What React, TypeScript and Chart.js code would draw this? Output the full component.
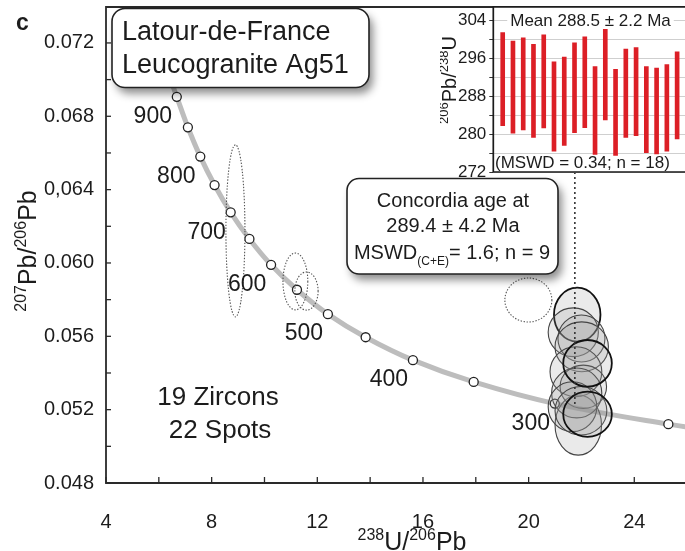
import React, { useEffect, useRef } from 'react';
import { Chart, registerables } from 'chart.js';

Chart.register(...registerables);

const FONT = '"Liberation Sans", Arial, Helvetica, sans-serif';
const INK = '#1c1c1c';

// ---- Concordia curve (Tera-Wasserburg) : age markers every 50 Ma ----
const markerAges = [900, 850, 800, 750, 700, 650, 600, 550, 500, 450, 400, 350, 300, 250];
const markerX = [6.68, 7.10, 7.57, 8.11, 8.72, 9.43, 10.25, 11.23, 12.40, 13.83, 15.62, 17.92, 20.99, 25.29];
const markerY = [0.06906, 0.06740, 0.06580, 0.06425, 0.06276, 0.06131, 0.05990, 0.05854, 0.05721, 0.05595, 0.05470, 0.05351, 0.05233, 0.05121];
// traced curve, running past the first and last markers
const curveX = [6.30, ...markerX, 27.53];
const curveY = [0.07060, ...markerY, 0.05077];
const labelledAges = [900, 800, 700, 600, 500, 400, 300];

// ---- concordant spots (solid grey ellipses) ----
const ellX = [21.88, 21.84, 21.69, 22.00, 22.01, 21.79, 22.07, 21.82, 21.66, 21.98, 22.23, 22.23];
const ellY = [0.05116, 0.05718, 0.05622, 0.05588, 0.05543, 0.05407, 0.05325, 0.05291, 0.05216, 0.05194, 0.05453, 0.05175];
const ellRx = [0.88, 0.88, 0.95, 0.89, 1.01, 0.98, 0.88, 0.95, 0.92, 0.98, 0.92, 0.92];
const ellRy = [0.00164, 0.00147, 0.00133, 0.00128, 0.00136, 0.00136, 0.00118, 0.00136, 0.00136, 0.00132, 0.00127, 0.00123];
const ellBold = [false, true, false, false, false, false, false, false, false, false, true, true];

// ---- excluded spots (dotted ellipses) ----
const dotX = [8.90, 11.17, 11.59, 19.99];
const dotY = [0.06175, 0.05899, 0.05847, 0.05798];
const dotRx = [0.36, 0.47, 0.44, 0.89];
const dotRy = [0.00469, 0.00155, 0.00104, 0.00120];

// concordia age point
const concAgeX = 21.75;
const concAgeY = 0.0522;

// ---- axis ticks ----
const xTickValues = [4, 8, 12, 16, 20, 24];
const xTickLabels = ['4', '8', '12', '16', '20', '24'];
const yTickValues = [0.048, 0.052, 0.056, 0.060, 0.064, 0.068, 0.072];
const yTickLabels = ['0.048', '0.052', '0.056', '0.060', '0,064', '0.068', '0.072'];

// ---- inset: 206Pb/238U ages (Ma), 2-sigma bars ----
const insetLow = [281.8, 280.2, 280.9, 279.3, 281.3, 276.4, 277.6, 280.3, 281.4, 275.7, 283.0, 275.5, 279.3, 279.7, 276.1, 275.8, 276.4, 279.0];
const insetHigh = [301.5, 299.7, 300.4, 299.0, 301.0, 295.3, 296.3, 299.3, 300.6, 294.3, 302.4, 293.7, 298.0, 298.3, 294.3, 294.0, 294.7, 297.4];
const insetTickValues = [272, 280, 288, 296, 304];

type Part = { t: string; sup?: boolean; sub?: boolean };

function drawRich(ctx: CanvasRenderingContext2D, parts: Part[], x: number, y: number, align: 'left' | 'center', main: number, small: number) {
  const widths = parts.map((p) => {
    ctx.font = `${p.sup || p.sub ? small : main}px ${FONT}`;
    return ctx.measureText(p.t).width;
  });
  const total = widths.reduce((a, b) => a + b, 0);
  let cx = align === 'center' ? x - total / 2 : x;
  ctx.textAlign = 'left';
  ctx.textBaseline = 'alphabetic';
  parts.forEach((p, i) => {
    ctx.font = `${p.sup || p.sub ? small : main}px ${FONT}`;
    const dy = p.sup ? -main * 0.4 : p.sub ? main * 0.3 : 0;
    ctx.fillText(p.t, cx, y + dy);
    cx += widths[i];
  });
}

function roundBox(ctx: CanvasRenderingContext2D, x: number, y: number, w: number, h: number, r: number) {
  ctx.save();
  ctx.beginPath();
  ctx.roundRect(x, y, w, h, r);
  ctx.shadowColor = 'rgba(0,0,0,0.45)';
  ctx.shadowBlur = 9;
  ctx.shadowOffsetX = 4;
  ctx.shadowOffsetY = 6;
  ctx.fillStyle = '#fff';
  ctx.fill();
  ctx.restore();
  ctx.save();
  ctx.beginPath();
  ctx.roundRect(x, y, w, h, r);
  ctx.lineWidth = 1.6;
  ctx.strokeStyle = '#222';
  ctx.stroke();
  ctx.restore();
}

const mainPlugin = {
  id: 'mainDecor',
  afterDatasetsDraw(chart: any) {
    const ctx: CanvasRenderingContext2D = chart.ctx;
    const xs = chart.scales.x;
    const ys = chart.scales.y;
    const area = chart.chartArea;
    const px = (v: number) => xs.getPixelForValue(v);
    const py = (v: number) => ys.getPixelForValue(v);

    ctx.save();
    ctx.beginPath();
    ctx.rect(area.left, area.top, area.right - area.left, area.bottom - area.top);
    ctx.clip();

    // dotted excluded ellipses
    ctx.save();
    ctx.setLineDash([1.4, 1.6]);
    ctx.lineWidth = 1.1;
    ctx.strokeStyle = '#555';
    dotX.forEach((cx, i) => {
      const x = px(cx);
      const y = py(dotY[i]);
      const rx = Math.abs(px(cx + dotRx[i]) - x);
      const ry = Math.abs(py(dotY[i] + dotRy[i]) - y);
      ctx.beginPath();
      ctx.ellipse(x, y, rx, ry, 0, 0, Math.PI * 2);
      ctx.stroke();
    });
    ctx.restore();

    // concordant grey ellipses
    ellX.forEach((cx, i) => {
      const x = px(cx);
      const y = py(ellY[i]);
      const rx = Math.abs(px(cx + ellRx[i]) - x);
      const ry = Math.abs(py(ellY[i] + ellRy[i]) - y);
      ctx.beginPath();
      ctx.ellipse(x, y, rx, ry, 0, 0, Math.PI * 2);
      ctx.fillStyle = 'rgba(150,150,150,0.2)';
      ctx.fill();
      ctx.lineWidth = ellBold[i] ? 1.8 : 1.1;
      ctx.strokeStyle = ellBold[i] ? '#111' : '#444';
      ctx.stroke();
    });

    // dotted link from inset down to concordia age
    ctx.save();
    ctx.setLineDash([2, 3]);
    ctx.lineWidth = 1.6;
    ctx.strokeStyle = '#333';
    ctx.beginPath();
    ctx.moveTo(px(concAgeX), 172);
    ctx.lineTo(px(concAgeX), py(concAgeY));
    ctx.stroke();
    ctx.restore();
    ctx.restore();

    // axis frame: left, bottom, top
    ctx.save();
    ctx.strokeStyle = '#2a2a2a';
    ctx.lineWidth = 1.8;
    ctx.beginPath();
    ctx.moveTo(area.right + 2, area.top);
    ctx.lineTo(area.left, area.top);
    ctx.lineTo(area.left, area.bottom);
    ctx.lineTo(area.right + 2, area.bottom);
    ctx.stroke();
    // inward ticks
    ctx.lineWidth = 1.3;
    ys.ticks.forEach((t: any) => {
      const y = py(t.value);
      ctx.beginPath();
      ctx.moveTo(area.left, y);
      ctx.lineTo(area.left + 5, y);
      ctx.stroke();
    });
    xs.ticks.forEach((t: any) => {
      const x = px(t.value);
      ctx.beginPath();
      ctx.moveTo(x, area.bottom);
      ctx.lineTo(x, area.bottom - 6);
      ctx.stroke();
    });
    ctx.restore();

    // age labels beside the markers
    ctx.save();
    ctx.fillStyle = INK;
    ctx.font = `23px ${FONT}`;
    ctx.textAlign = 'center';
    ctx.textBaseline = 'middle';
    labelledAges.forEach((age) => {
      const i = markerAges.indexOf(age);
      ctx.fillText(String(age), px(markerX[i]) - 24, py(markerY[i]) + 20);
    });
    ctx.restore();
  },
  afterDraw(chart: any) {
    const ctx: CanvasRenderingContext2D = chart.ctx;
    ctx.save();
    ctx.fillStyle = INK;

    // panel letter
    ctx.font = `bold 23px ${FONT}`;
    ctx.textAlign = 'left';
    ctx.textBaseline = 'alphabetic';
    ctx.fillText('c', 16, 30);

    // sample box
    roundBox(ctx, 112, 8.5, 257, 79, 13);
    ctx.fillStyle = INK;
    ctx.font = `27px ${FONT}`;
    ctx.textAlign = 'left';
    ctx.fillText('Latour-de-France', 122, 40);
    ctx.fillText('Leucogranite Ag51', 122, 73);

    // concordia age box
    roundBox(ctx, 347, 178.5, 211, 95.5, 12);
    ctx.fillStyle = INK;
    ctx.font = `20px ${FONT}`;
    ctx.textAlign = 'center';
    ctx.fillText('Concordia age at', 453, 207);
    ctx.fillText('289.4 ± 4.2 Ma', 453, 232);
    drawRich(ctx, [{ t: 'MSWD' }, { t: '(C+E)', sub: true }, { t: '= 1.6; n = 9' }], 452, 259, 'center', 20, 12);

    // counts
    ctx.font = `26px ${FONT}`;
    ctx.textAlign = 'center';
    ctx.fillText('19 Zircons', 218, 405);
    ctx.fillText('22 Spots', 220, 438);

    // axis titles
    drawRich(ctx, [{ t: '238', sup: true }, { t: 'U/' }, { t: '206', sup: true }, { t: 'Pb' }], 412, 550, 'center', 25, 16);
    ctx.save();
    ctx.translate(36, 251);
    ctx.rotate(-Math.PI / 2);
    drawRich(ctx, [{ t: '207', sup: true }, { t: 'Pb/' }, { t: '206', sup: true }, { t: 'Pb' }], 0, 0, 'center', 25, 16);
    ctx.restore();
    ctx.restore();
  },
};

const insetPlugin = {
  id: 'insetDecor',
  beforeDraw(chart: any) {
    const ctx: CanvasRenderingContext2D = chart.ctx;
    const a = chart.chartArea;
    ctx.save();
    ctx.fillStyle = '#fff';
    ctx.fillRect(a.left, a.top, a.right - a.left, a.bottom - a.top);
    ctx.restore();
  },
  afterDraw(chart: any) {
    const ctx: CanvasRenderingContext2D = chart.ctx;
    const a = chart.chartArea;
    ctx.save();
    ctx.strokeStyle = '#1a1a1a';
    ctx.lineWidth = 1.7;
    ctx.beginPath();
    ctx.moveTo(a.right + 2, a.top);
    ctx.lineTo(a.left, a.top);
    ctx.lineTo(a.left, a.bottom);
    ctx.lineTo(a.right + 2, a.bottom);
    ctx.stroke();

    ctx.font = `17px ${FONT}`;
    const mean = 'Mean 288.5 ± 2.2 Ma';
    const w = ctx.measureText(mean).width;
    ctx.fillStyle = '#fff';
    ctx.fillRect(150.5 - w / 2 - 3, 12, w + 6, 17);
    ctx.fillStyle = INK;
    ctx.textAlign = 'center';
    ctx.textBaseline = 'middle';
    ctx.fillText(mean, 150.5, 21);
    ctx.textAlign = 'left';
    ctx.fillText('(MSWD = 0.34; n = 18)', 55, 163);

    ctx.translate(16, 80);
    ctx.rotate(-Math.PI / 2);
    drawRich(ctx, [{ t: '206', sup: true }, { t: 'Pb/' }, { t: '238', sup: true }, { t: 'U' }], 0, 0, 'center', 20, 13);
    ctx.restore();
  },
};

export default function App() {
  const mainRef = useRef<HTMLCanvasElement>(null);
  const insetRef = useRef<HTMLCanvasElement>(null);

  useEffect(() => {
    const lookup = (vals: number[], labels: string[]) => (v: any) => {
      const i = vals.findIndex((t) => Math.abs(t - Number(v)) < 1e-7);
      return i >= 0 ? labels[i] : '';
    };

    const main = new Chart(mainRef.current as HTMLCanvasElement, {
      type: 'scatter',
      data: {
        datasets: [
          {
            data: curveX.map((x, i) => ({ x, y: curveY[i] })),
            showLine: true,
            borderColor: '#bdbdbd',
            borderWidth: 5,
            pointRadius: 0,
            tension: 0.4,
            order: 2,
          },
          {
            data: markerX.map((x, i) => ({ x, y: markerY[i] })),
            showLine: false,
            pointRadius: 4.5,
            pointBackgroundColor: '#ffffff',
            pointBorderColor: '#222',
            pointBorderWidth: 1.3,
            order: 1,
          },
        ],
      },
      options: {
        responsive: false,
        animation: false,
        events: [],
        layout: { autoPadding: false, padding: { top: 7, right: 0, left: 0, bottom: 0 } },
        plugins: { legend: { display: false }, tooltip: { enabled: false } },
        scales: {
          x: {
            type: 'linear',
            min: 4,
            max: 25.92,
            afterFit: (s: any) => { s.height = 68; s.paddingLeft = 0; s.paddingRight = 0; },
            grid: { display: false, drawTicks: false },
            border: { display: false },
            ticks: {
              stepSize: 2,
              includeBounds: false,
              autoSkip: false,
              maxRotation: 0,
              padding: 27,
              color: INK,
              font: { family: FONT, size: 20 },
              callback: lookup(xTickValues, xTickLabels),
            },
          },
          y: {
            type: 'linear',
            min: 0.048,
            max: 0.07396,
            afterFit: (s: any) => { s.width = 106; s.paddingTop = 0; s.paddingBottom = 0; },
            grid: { display: false, drawTicks: false },
            border: { display: false },
            ticks: {
              stepSize: 0.002,
              includeBounds: false,
              autoSkip: false,
              padding: 12,
              color: INK,
              font: { family: FONT, size: 20 },
              callback: lookup(yTickValues, yTickLabels),
            },
          },
        },
      },
      plugins: [mainPlugin],
    } as any);

    const inset = new Chart(insetRef.current as HTMLCanvasElement, {
      type: 'bar',
      data: {
        datasets: [
          {
            data: insetLow.map((lo, i) => ({ x: i + 1, y: [lo, insetHigh[i]] })),
            backgroundColor: '#dc1f26',
            borderWidth: 0,
            barThickness: 4,
          },
        ],
      },
      options: {
        responsive: false,
        animation: false,
        events: [],
        layout: { autoPadding: false, padding: { top: 7, bottom: 8, left: 0, right: 0 } },
        plugins: { legend: { display: false }, tooltip: { enabled: false } },
        scales: {
          x: { type: 'linear', display: false, min: 0.084, max: 20.23, offset: false },
          y: {
            type: 'linear',
            min: 272,
            max: 306.9,
            afterFit: (s: any) => { s.width = 53.3; s.paddingTop = 0; s.paddingBottom = 0; },
            border: { display: false },
            grid: { color: '#cfcfcf', lineWidth: 1, drawTicks: true, tickLength: 4, tickColor: '#333' },
            ticks: {
              stepSize: 4,
              includeBounds: false,
              autoSkip: false,
              padding: 3,
              color: INK,
              font: { family: FONT, size: 17 },
              callback: (v: any) => (insetTickValues.includes(Number(v)) ? String(v) : ''),
            },
          },
        },
      },
      plugins: [insetPlugin],
    } as any);

    return () => {
      main.destroy();
      inset.destroy();
    };
  }, []);

  return (
    <div style={{ position: 'fixed', left: 0, top: 0, width: 685, height: 551, overflow: 'hidden', background: '#fff' }}>
      <canvas ref={mainRef} width={685} height={551} style={{ position: 'absolute', left: 0, top: 0, width: 685, height: 551 }} />
      <canvas ref={insetRef} width={260} height={180} style={{ position: 'absolute', left: 440, top: 0, width: 260, height: 180 }} />
    </div>
  );
}
